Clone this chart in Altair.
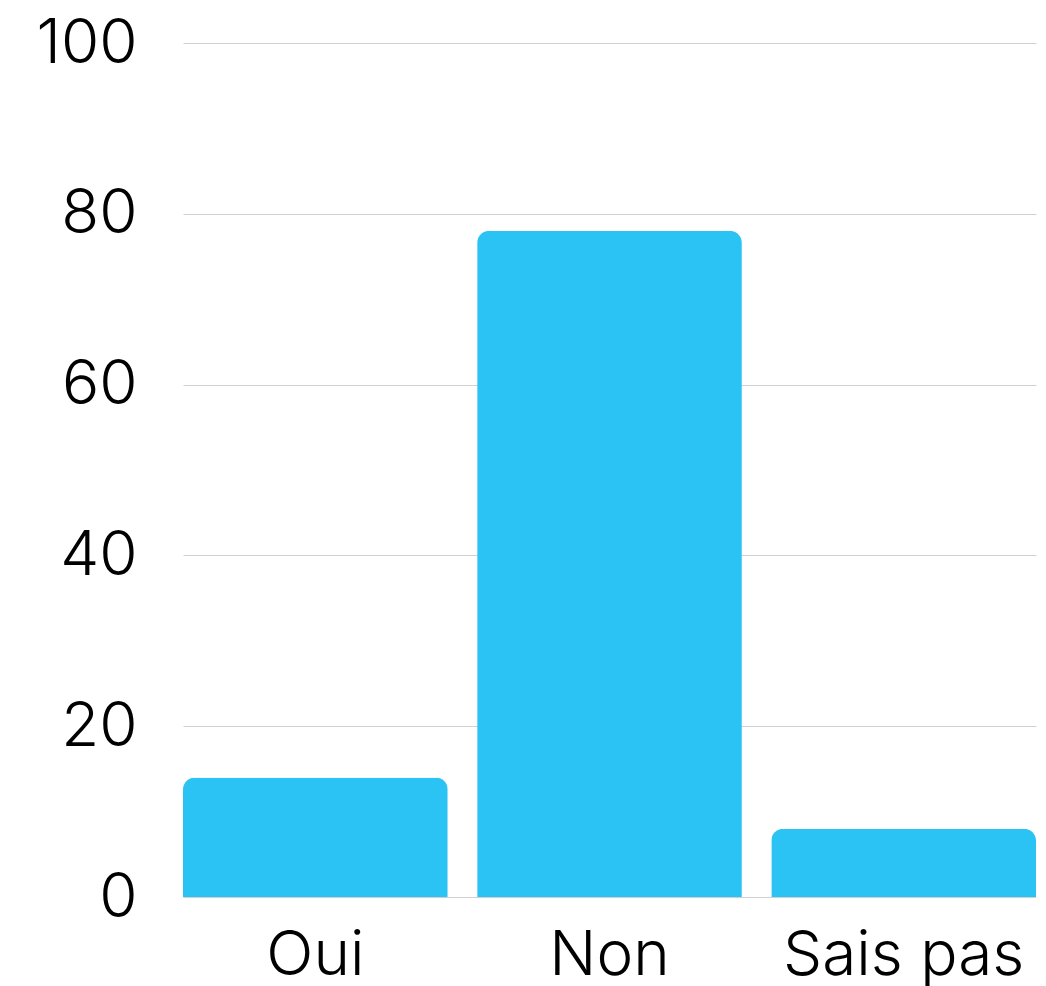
import altair as alt
import pandas as pd

categories = ["Oui", "Non", "Sais pas"]
values = [14, 78, 8]
y_ticks = [0, 20, 40, 60, 80, 100]

df = pd.DataFrame({"cat": categories, "val": values})

FONT = "Inter"

chart = alt.Chart(df).mark_bar(
    color="#2BC3F3", cornerRadiusTopLeft=12, cornerRadiusTopRight=12
).encode(
    x=alt.X("cat:N", sort=categories, title=None,
            scale=alt.Scale(paddingInner=0.1, paddingOuter=0),
            axis=alt.Axis(labelAngle=0, ticks=False, domain=False,
                          labelFontSize=62, labelFont=FONT, labelFontWeight=300,
                          labelColor="#000", labelLimit=0,
                          labelPadding=28)),
    y=alt.Y("val:Q", title=None,
            scale=alt.Scale(domain=[0, 100], nice=False),
            axis=alt.Axis(values=y_ticks, ticks=False, domain=False,
                          labelFontSize=62, labelFont=FONT, labelFontWeight=300,
                          labelColor="#000", labelLimit=0,
                          labelPadding=46, gridColor="#d0d0d0", gridWidth=1)),
).properties(
    width=853, height=854,
    autosize=alt.AutoSizeParams(type="none"),
    padding={"left": 175, "top": 35, "right": 2, "bottom": 89},
).configure_view(stroke=None)

chart.save("out.html", embed_options={"renderer": "svg", "actions": False})
